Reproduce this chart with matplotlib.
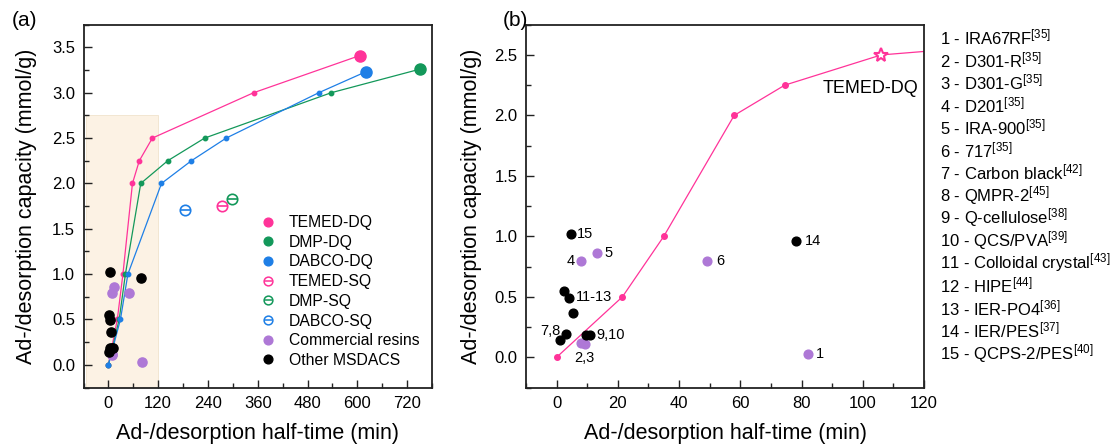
import matplotlib
matplotlib.use('Agg')
import matplotlib.pyplot as plt
from matplotlib.lines import Line2D
from matplotlib.patches import Rectangle
from matplotlib.legend_handler import HandlerTuple
from matplotlib.ticker import MultipleLocator, FormatStrFormatter

plt.rcParams['font.family'] = ['Liberation Sans', 'DejaVu Sans']
plt.rcParams['mathtext.fontset'] = 'custom'
plt.rcParams['mathtext.rm'] = 'Liberation Sans'
plt.rcParams['mathtext.it'] = 'Liberation Sans:italic'
plt.rcParams['mathtext.bf'] = 'Liberation Sans:bold'

# ---------------- data ----------------
temed_dq_t = [0, 21.5, 35, 58, 74.5, 106, 350, 606]
temed_dq_q = [0, 0.5, 1.0, 2.0, 2.25, 2.5, 3.0, 3.41]
dmp_dq_t = [0, 26, 41, 78, 143, 232, 537, 751]
dmp_dq_q = [0, 0.5, 1.0, 2.0, 2.25, 2.5, 3.0, 3.26]
dabco_dq_t = [0, 29, 47, 128, 200, 284, 507, 620]
dabco_dq_q = [0, 0.5, 1.0, 2.0, 2.25, 2.5, 3.0, 3.23]

sq_names = ['TEMED-SQ', 'DMP-SQ', 'DABCO-SQ']
sq_t = [273, 299, 184]
sq_q = [1.755, 1.825, 1.71]

resin_ids = [1, 2, 3, 4, 5, 6]
resin_t = [82.1, 7.85, 9.15, 8.07, 13.1, 49.2]
resin_q = [0.03, 0.118, 0.113, 0.793, 0.862, 0.796]

msdacs_ids = [7, 8, 9, 10, 11, 12, 13, 14, 15]
msdacs_t = [1.2, 3.05, 9.7, 10.8, 2.3, 3.9, 5.45, 78.3, 4.6]
msdacs_q = [0.14, 0.19, 0.182, 0.182, 0.551, 0.49, 0.366, 0.959, 1.022]

ref_names = ['IRA67RF', 'D301-R', 'D301-G', 'D201', 'IRA-900', '717',
             'Carbon black', 'QMPR-2', 'Q-cellulose', 'QCS/PVA',
             'Colloidal crystal', 'HIPE', 'IER-PO4', 'IER/PES', 'QCPS-2/PES']
ref_cites = [35, 35, 35, 35, 35, 35, 42, 45, 38, 39, 43, 44, 36, 37, 40]

# point labels in panel (b): (text, anchor id, dx px, dy px, ha)
b_labels = [('15', 15, 6, 0, 'left'), ('5', 5, 8, 0, 'left'),
            ('4', 4, -6.5, 0, 'right'), ('6', 6, 9, 0, 'left'),
            ('11-13', 12, 7, 1, 'left'), ('7,8', 8, -5.5, 3.5, 'right'),
            ('9,10', 10, 7, 0, 'left'), ('2,3', 3, 0, -14.5, 'center'),
            ('1', 1, 8, 0, 'left'), ('14', 14, 8.5, 0, 'left')]

# ---------------- style ----------------
C_TEMED = '#FF3399'
C_DMP = '#13985A'
C_DABCO = '#1E7FE6'
C_RESIN = '#AE78D6'
C_OTHER = '#000000'
SPINE = '#222222'

W, H = 1118, 447
fig = plt.figure(figsize=(W / 100, H / 100), dpi=100)

def style_axes(ax):
    for s in ax.spines.values():
        s.set_linewidth(1.3)
        s.set_color(SPINE)
    ax.tick_params(which='both', direction='in', top=False, right=False,
                   labelsize=12, color=SPINE, width=1.0)
    ax.tick_params(which='major', length=5.5, pad=6)
    ax.tick_params(which='minor', length=3.5)

axA = fig.add_axes([83.5 / W, 1 - 387.5 / H, (432 - 83.5) / W, (387.5 - 24.7) / H])
axB = fig.add_axes([526 / W, 1 - 387.5 / H, (924 - 526) / W, (387.5 - 24.7) / H])

# ---------------- panel (a) ----------------
axA.add_patch(Rectangle((-55, -0.25), 175, 3.0, facecolor='#FCF2E4',
                        edgecolor='#F1E3CC', lw=0.6, zorder=0))
for t, q, c in [(temed_dq_t, temed_dq_q, C_TEMED), (dmp_dq_t, dmp_dq_q, C_DMP),
                (dabco_dq_t, dabco_dq_q, C_DABCO)]:
    axA.plot(t, q, '-', color=c, lw=0.9, marker='o', ms=3.2, mec=c, zorder=2)
    axA.plot(t[-1:], q[-1:], 'o', color=c, ms=8, zorder=3)

sq_cols = [C_TEMED, C_DMP, C_DABCO]
for t, q, c in zip(sq_t, sq_q, sq_cols):
    axA.plot([t], [q], 'o', mfc='white', mec=c, mew=1.2, ms=7.5, zorder=3)
    axA.plot([t], [q], '_', color=c, mew=1.2, ms=7.5, zorder=4)

axA.plot(resin_t, resin_q, 'o', color=C_RESIN, ms=6.6, ls='none', zorder=4)
axA.plot(msdacs_t, msdacs_q, 'o', color=C_OTHER, ms=6.6, ls='none', zorder=5)

axA.set_xlim(-60, 780)
axA.set_ylim(-0.25, 3.75)
axA.xaxis.set_major_locator(MultipleLocator(120))
axA.xaxis.set_minor_locator(MultipleLocator(60))
axA.yaxis.set_major_locator(MultipleLocator(0.5))
axA.yaxis.set_minor_locator(MultipleLocator(0.25))
axA.yaxis.set_major_formatter(FormatStrFormatter('%.1f'))
style_axes(axA)
axA.set_xlabel('Ad-/desorption half-time (min)', fontsize=15.5, labelpad=9)
axA.set_ylabel('Ad-/desorption capacity (mmol/g)', fontsize=15.5, labelpad=11)

handles = []
for c in [C_TEMED, C_DMP, C_DABCO]:
    handles.append(Line2D([], [], ls='none', marker='o', color=c, ms=6.3))
for c in sq_cols:
    h1 = Line2D([], [], ls='none', marker='o', mfc='white', mec=c, mew=1.1, ms=6.3)
    h2 = Line2D([], [], ls='none', marker='_', color=c, mew=1.1, ms=6.3)
    handles.append((h1, h2))
handles.append(Line2D([], [], ls='none', marker='o', color=C_RESIN, ms=6.3))
handles.append(Line2D([], [], ls='none', marker='o', color=C_OTHER, ms=6.3))
labels = ['TEMED-DQ', 'DMP-DQ', 'DABCO-DQ'] + sq_names + ['Commercial resins', 'Other MSDACS']
axA.legend(handles, labels, handler_map={tuple: HandlerTuple(ndivide=1)},
           loc='upper left', bbox_to_anchor=((262 - 83.5) / (432 - 83.5), (387.5 - 215) / (387.5 - 24.7)),
           frameon=False, fontsize=11.3, handlelength=0.8, handletextpad=0.9,
           labelspacing=0.3, borderpad=0, borderaxespad=0)

# ---------------- panel (b) ----------------
axB.plot(temed_dq_t, temed_dq_q, '-', color=C_TEMED, lw=0.9, zorder=2)
axB.plot(temed_dq_t[:5], temed_dq_q[:5], 'o', color=C_TEMED, ms=4, ls='none', zorder=3)
axB.plot(temed_dq_t[5:6], temed_dq_q[5:6], '*', mfc='white', mec=C_TEMED,
         mew=1.5, ms=10.5, ls='none', zorder=3)
axB.plot(resin_t, resin_q, 'o', color=C_RESIN, ms=6.3, ls='none', zorder=4)
axB.plot(msdacs_t, msdacs_q, 'o', color=C_OTHER, ms=6.3, ls='none', zorder=5)

all_ids = resin_ids + msdacs_ids
all_t = resin_t + msdacs_t
all_q = resin_q + msdacs_q
for txt, pid, dx, dy, ha in b_labels:
    i = all_ids.index(pid)
    axB.annotate(txt, (all_t[i], all_q[i]), xytext=(dx * 0.72, dy * 0.72),
                 textcoords='offset points', ha=ha, va='center', fontsize=10.5)
axB.text(118, 2.226, 'TEMED-DQ', ha='right', va='center', fontsize=13)

axB.set_xlim(-10, 120)
axB.set_ylim(-0.25, 2.75)
axB.xaxis.set_major_locator(MultipleLocator(20))
axB.xaxis.set_minor_locator(MultipleLocator(10))
axB.yaxis.set_major_locator(MultipleLocator(0.5))
axB.yaxis.set_minor_locator(MultipleLocator(0.25))
axB.yaxis.set_major_formatter(FormatStrFormatter('%.1f'))
style_axes(axB)
axB.set_xlabel('Ad-/desorption half-time (min)', fontsize=15.5, labelpad=9)
axB.set_ylabel('Ad-/desorption capacity (mmol/g)', fontsize=15.5, labelpad=9)

# ---------------- side list ----------------
for k, (name, ref) in enumerate(zip(ref_names, ref_cites)):
    y = 37.5 + k * 22.55
    fig.text(940 / W, 1 - y / H, f'{k + 1} - {name}$^{{[{ref}]}}$',
             ha='left', va='center', fontsize=12)

fig.text(12 / W, 1 - 20 / H, '(a)', ha='left', va='center', fontsize=15)
fig.text(503 / W, 1 - 20 / H, '(b)', ha='left', va='center', fontsize=15)

fig.savefig('out.png', dpi=100)
